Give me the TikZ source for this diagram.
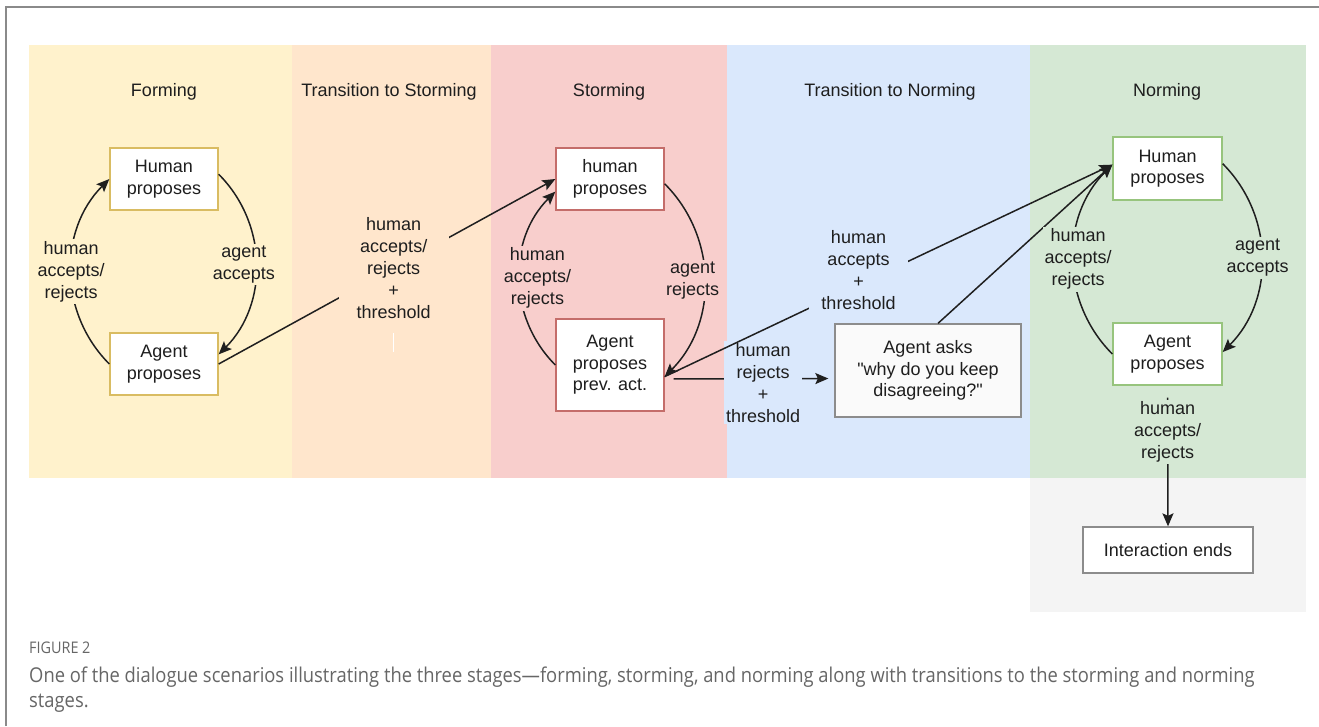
\documentclass[tikz,border=0pt]{standalone}
\usepackage{fontspec}
\setmainfont{Liberation Sans}[Ligatures=TeXOff]
\newfontfamily\capfont[FakeStretch=0.9]{Open Sans}
\usetikzlibrary{arrows.meta}
\definecolor{cForm}{HTML}{FFF2CC}
\definecolor{cTS}{HTML}{FFE6CC}
\definecolor{cStorm}{HTML}{F8CECC}
\definecolor{cTN}{HTML}{DAE8FC}
\definecolor{cNorm}{HTML}{D5E8D4}
\definecolor{cGray}{HTML}{F4F4F4}
\definecolor{bForm}{HTML}{D9BC62}
\definecolor{bStorm}{HTML}{C46D6A}
\definecolor{bNorm}{HTML}{97C47D}
\definecolor{bGray}{HTML}{8C8C8C}
\definecolor{txt}{HTML}{1E1E1E}
\definecolor{captxt}{HTML}{666666}
\definecolor{frame}{HTML}{8A8A8A}
\begin{document}
\begin{tikzpicture}[x=1pt,y=-1pt,
  box/.style={draw, fill=white, line width=1.3pt, align=center, text=txt,
    font=\fontsize{18}{21.5}\selectfont, inner sep=0pt},
  lab/.style={align=center, text=txt, font=\fontsize{18}{22}\selectfont, inner sep=2pt},
  ttl/.style={text=txt, font=\fontsize{18}{21}\selectfont},
  arr/.style={draw=black!88, line width=1.5pt, -{Stealth[length=13pt,width=11pt,inset=2.5pt]}}
]
\useasboundingbox (0,0) rectangle (1319,726);
\fill[white] (0,0) rectangle (1319,726);
\draw[frame, line width=1.5pt] (6,726) -- (6,7) -- (1319,7);
% panels
\fill[cForm] (29,45) rectangle (292,478);
\fill[cTS] (292,45) rectangle (491,478);
\fill[cStorm] (491,45) rectangle (727,478);
\fill[cTN] (727,45) rectangle (1030,478);
\fill[cNorm] (1030,45) rectangle (1306,478);
\fill[cGray] (1030,478) rectangle (1306,612);
\draw[white, line width=1pt] (393,333) -- (393,352);
% titles
\node[ttl] (t1) at (164,92) {Forming};
\node[ttl] (t2) at (389,92) {Transition to Storming};
\node[ttl] (t3) at (609,92) {Storming};
\node[ttl] (t4) at (890,92) {Transition to Norming};
\node[ttl] (t5) at (1167,92) {Norming};
% boxes
\node[box, draw=bForm, minimum width=108pt, minimum height=62pt] (fh) at (164,179) {Human\\proposes};
\node[box, draw=bForm, minimum width=108pt, minimum height=62pt] (fa) at (164,364) {Agent\\proposes};
\node[box, draw=bStorm, minimum width=108pt, minimum height=62pt] (sh) at (610,179) {human\\proposes};
\node[box, draw=bStorm, minimum width=108pt, minimum height=92pt] (sp) at (610,365) {Agent\\proposes\\prev. act.};
\node[box, draw=bGray, fill=white!98!black, minimum width=186pt, minimum height=93pt] (ask) at (928,370.5) {Agent asks\\"why do you keep\\disagreeing?"};
\node[box, draw=bNorm, minimum width=109pt, minimum height=63pt] (nh) at (1167.5,168.5) {Human\\proposes};
\node[box, draw=bNorm, minimum width=109pt, minimum height=62pt] (na) at (1167.5,354) {Agent\\proposes};
\node[box, draw=bGray, minimum width=170pt, minimum height=46pt] (fin) at (1168,550) {Interaction ends};
% forming loop
\draw[arr] (fh.5) to[bend left=45] node[lab, fill=cForm, xshift=-12pt] {agent\\accepts} (fa.10);
\draw[arr] (fa.west) to[bend left=45] node[lab, fill=cForm] {human\\accepts/\\rejects} (fh.west);
% forming -> storming
\draw[arr] (fa.east) -- node[lab, fill=cTS, inner xsep=18pt, pos=0.52] {human\\accepts/\\rejects\\+\\threshold} (sh.west);
% storming loop
\draw[arr] (sh.-5) to[bend left=45] node[lab, fill=cStorm, xshift=-12pt] {agent\\rejects} (sp.-12);
\draw[arr] (sp.west) to[bend left=45] node[lab, fill=cStorm, xshift=18pt] {human\\accepts/\\rejects} (sh.193);
% storming -> ask
\draw[arr, shorten <=9pt, shorten >=6pt] ([yshift=-14pt]sp.east) -- node[lab, fill=cTN, pos=0.58, yshift=-4pt] {human\\rejects\\+\\threshold} ([yshift=-8pt]ask.west);
% storming -> norming
\draw[arr] (sp.-12) -- node[lab, fill=cTN, inner xsep=12pt, pos=0.433, yshift=15pt] {human\\accepts\\+\\threshold} (nh.176);
\draw[arr] ([xshift=10pt]ask.north) -- (nh.176);
% norming loop
\draw[arr] (nh.5) to[bend left=45] node[lab, fill=cNorm, xshift=-4pt] {agent\\accepts} (na.2);
\draw[arr] (na.west) to[bend left=45] node[lab, fill=cNorm, xshift=5pt] {human\\accepts/\\rejects} (nh.176);
% norming -> end
\draw[arr, shorten <=12pt] (na.south) -- node[lab, fill=cNorm, pos=0.33] {human\\accepts/\\rejects} (fin.north);
% caption
\node[anchor=west, inner sep=0pt, text=captxt, font=\capfont\fontsize{16}{18}\selectfont] (cap0) at (29,648) {FIGURE 2};
\node[anchor=west, inner sep=0pt, text=captxt, font=\capfont\fontsize{20.4}{26}\selectfont] (cap1) at (29,677) {One of the dialogue scenarios illustrating the three stages—forming, storming, and norming along with transitions to the storming and norming};
\node[anchor=west, inner sep=0pt, text=captxt, font=\capfont\fontsize{20.4}{26}\selectfont] (cap2) at (29,703) {stages.};
\end{tikzpicture}
\end{document}
